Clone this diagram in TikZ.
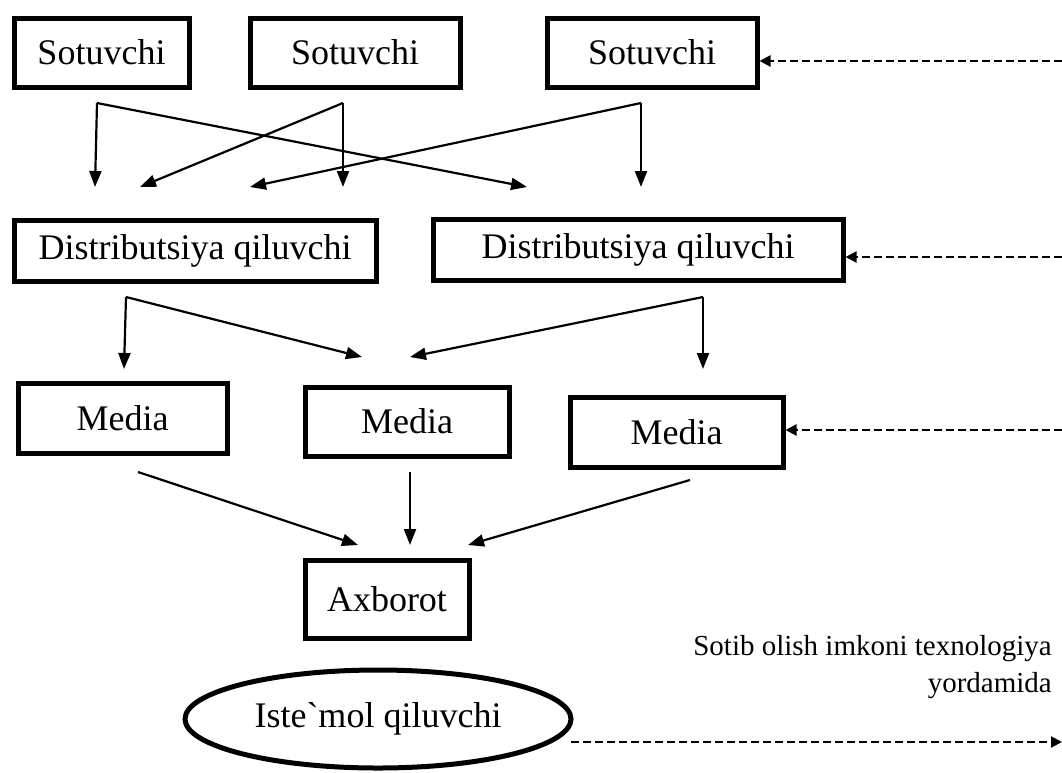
\documentclass[tikz,border=0pt]{standalone}
\usepackage{fontspec}
\setmainfont{Liberation Serif}[Ligatures=TeXOff]
\usetikzlibrary{arrows.meta,shapes.geometric}

\tikzset{
  box/.style={draw, line width=5pt, inner sep=0pt, font=\fontsize{36}{40}\selectfont},
  oval/.style={draw, ellipse, line width=5pt, inner sep=0pt, font=\fontsize{36}{40}\selectfont},
  flow/.style={line width=2.2pt, -{Triangle[length=16pt,width=12pt]}},
  link/.style={line width=2pt, dash pattern=on 8pt off 4pt, -{Triangle[length=11pt,width=11pt]}},
  note/.style={inner sep=0pt, anchor=base east, font=\fontsize{29}{37}\selectfont}
}

\begin{document}
\begin{tikzpicture}[x=1pt, y=-1pt]
\useasboundingbox (0,0) rectangle (1062,772);

% sellers
\node[box, minimum width=175pt, minimum height=69pt] (s1) at (101.5,52.5) {Sotuvchi};
\node[box, minimum width=210pt, minimum height=69pt] (s2) at (355,52.5) {Sotuvchi};
\node[box, minimum width=210pt, minimum height=69pt] (s3) at (652,52.5) {Sotuvchi};

% distributors
\node[box, minimum width=362pt, minimum height=61pt] (d1) at (195,250.5) {Distributsiya qiluvchi};
\node[box, minimum width=410pt, minimum height=61pt] (d2) at (638,249.5) {Distributsiya qiluvchi};

% media
\node[box, minimum width=209pt, minimum height=70pt] (m1) at (122.5,418) {Media};
\node[box, minimum width=204pt, minimum height=69pt] (m2) at (407,421.5) {Media};
\node[box, minimum width=213pt, minimum height=70pt] (m3) at (676.5,432) {Media};

% information and consumer
\node[box, minimum width=164pt, minimum height=78pt] (ax) at (387,599) {Axborot};
\node[oval, minimum width=386pt, minimum height=98pt] (el) at (378,719) {Iste`mol qiluvchi};

% caption
\node[note] (cap1) at (1052,655) {Sotib olish imkoni texnologiya};
\node[note] (cap2) at (1052,692) {yordamida};

% branch points and arrow ends
\coordinate (c1) at (97,103);
\coordinate (c2) at (343,103);
\coordinate (c3) at (641,103);
\coordinate (t11) at (95,187);
\coordinate (t12) at (527,187);
\coordinate (t21) at (343,187);
\coordinate (t22) at (140,187);
\coordinate (t31) at (641,187);
\coordinate (t32) at (250,187);

\coordinate (e1) at (126,297);
\coordinate (e2) at (703,297);
\coordinate (u11) at (124,369);
\coordinate (u12) at (362,357);
\coordinate (u21) at (703,369);
\coordinate (u22) at (410,357);

\coordinate (f1) at (138,472);
\coordinate (f2) at (410,472);
\coordinate (f3) at (690,480);
\coordinate (g1) at (358,545);
\coordinate (g2) at (410,545);
\coordinate (g3) at (468,545);

\coordinate (r1) at (1062,61);
\coordinate (r2) at (1062,257);
\coordinate (r3) at (1062,430);
\coordinate (q0) at (571,742);
\coordinate (q1) at (1062,742);

% sellers to distributors
\draw[flow] (c1) -- (t11);
\draw[flow] (c1) -- (t12);
\draw[flow] (c2) -- (t21);
\draw[flow] (c2) -- (t22);
\draw[flow] (c3) -- (t31);
\draw[flow] (c3) -- (t32);

% distributors to media
\draw[flow] (e1) -- (u11);
\draw[flow] (e1) -- (u12);
\draw[flow] (e2) -- (u21);
\draw[flow] (e2) -- (u22);

% media to information
\draw[flow] (f1) -- (g1);
\draw[flow] (f2) -- (g2);
\draw[flow] (f3) -- (g3);

% feedback links, horizontal into the right edge of each box
\draw[link] (r1) -- (r1 -| s3.east);
\draw[link] (r2) -- (r2 -| d2.east);
\draw[link] (r3) -- (r3 -| m3.east);
\draw[link] (q0) -- (q1);
\end{tikzpicture}
\end{document}
